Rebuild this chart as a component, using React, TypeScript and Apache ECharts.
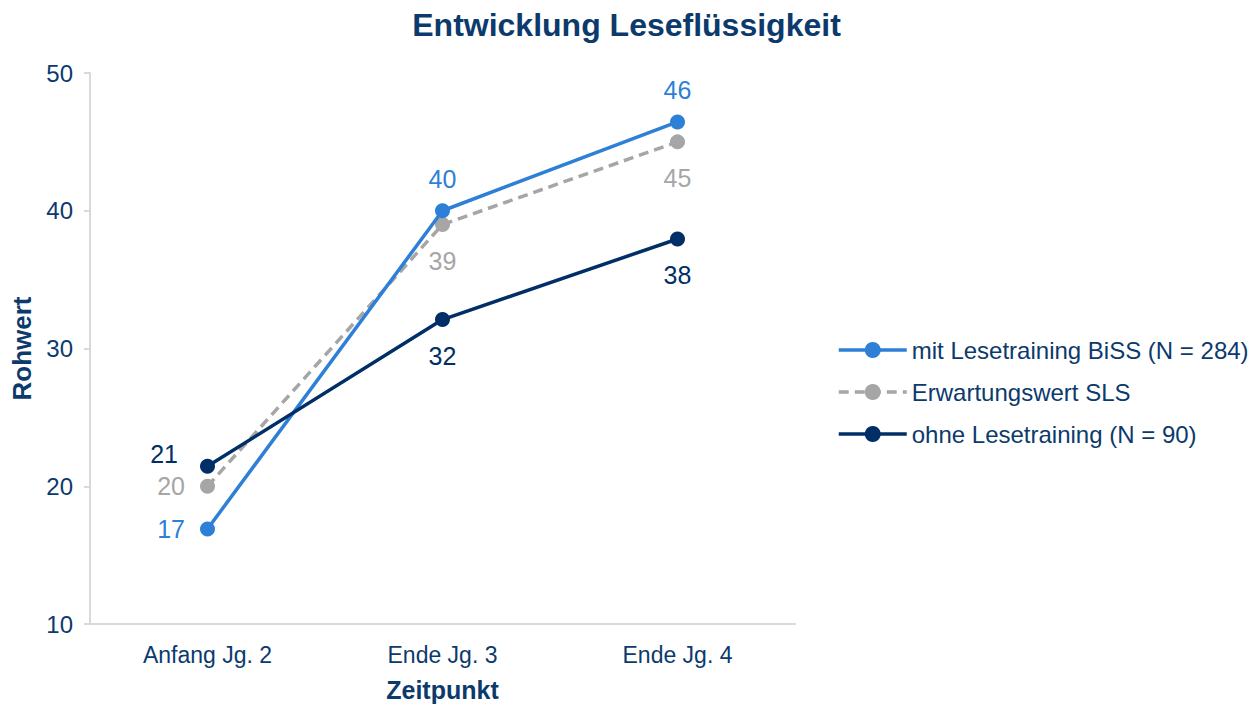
import React, { useEffect, useRef } from "react";
import * as echarts from "echarts";

const categories = ["Anfang Jg. 2", "Ende Jg. 3", "Ende Jg. 4"];
const seriesNames = ["mit Lesetraining BiSS (N = 284)", "Erwartungswert SLS", "ohne Lesetraining (N = 90)"];
const mitBiSS = [16.9, 40.0, 46.45];
const erwartung = [20.0, 39.0, 45.0];
const ohne = [21.45, 32.1, 37.95];
const yTicks = { min: 10, max: 50, interval: 10 };

const NAVY = "#0C3A6C";
const BLUE = "#2E7FD6";
const GRAY = "#A6A6A6";
const DARK = "#002E66";
const FONT = "'Liberation Sans', Arial, sans-serif";
const NARROW = "'Liberation Sans Narrow', 'Liberation Sans', Arial, sans-serif";

const fmt = (p: any) => String(Math.round(p.value));

export default function App() {
  const ref = useRef<HTMLDivElement>(null);
  useEffect(() => {
    document.body.style.margin = "0";
    const chart = echarts.init(ref.current!, null, { renderer: "svg" });
    const labelBase = { show: true, fontSize: 25, fontFamily: FONT, formatter: fmt };
    chart.setOption({
      animation: false,
      backgroundColor: "#ffffff",
      textStyle: { fontFamily: FONT },
      title: {
        text: "Entwicklung Leseflüssigkeit",
        left: "center",
        top: 4,
        textStyle: { color: NAVY, fontSize: 32, fontWeight: "bold", fontFamily: FONT },
      },
      legend: {
        orient: "vertical",
        left: 832,
        top: 333,
        itemGap: 18,
        itemWidth: 68,
        itemHeight: 20,
        textStyle: { color: NAVY, fontSize: 24, fontFamily: FONT },
        lineStyle: { width: 3.5 },
        data: seriesNames,
      },
      grid: { left: 90, right: 458, top: 73, bottom: 80 },
      xAxis: {
        type: "category",
        data: categories,
        boundaryGap: true,
        axisLine: { lineStyle: { color: "#D9D9D9", width: 2 } },
        axisTick: { show: false },
        axisLabel: { color: NAVY, fontSize: 23, fontFamily: NARROW, margin: 19 },
        name: "Zeitpunkt",
        nameLocation: "middle",
        nameGap: 53,
        nameTextStyle: { color: NAVY, fontSize: 25, fontWeight: "bold", fontFamily: NARROW },
      },
      yAxis: {
        type: "value",
        min: yTicks.min,
        max: yTicks.max,
        interval: yTicks.interval,
        axisLine: { show: true, lineStyle: { color: "#D9D9D9", width: 2 } },
        axisTick: { show: true, length: 6, lineStyle: { color: "#D9D9D9", width: 2 } },
        splitLine: { show: false },
        axisLabel: { color: NAVY, fontSize: 24, fontFamily: FONT, margin: 17 },
        name: "Rohwert",
        nameLocation: "middle",
        nameGap: 55,
        nameTextStyle: { color: NAVY, fontSize: 26, fontWeight: "bold", fontFamily: FONT },
      },
      series: [
        {
          name: seriesNames[0],
          type: "line",
          data: mitBiSS.map((v, i) => ({
            value: v,
            label: i === 0 ? { position: "left", distance: 15 } : { position: "top", distance: 12 },
          })),
          color: BLUE,
          lineStyle: { width: 3.5, color: BLUE },
          symbol: "circle",
          symbolSize: 15,
          itemStyle: { color: BLUE },
          label: { ...labelBase, color: BLUE },
          z: 3,
        },
        {
          name: seriesNames[1],
          type: "line",
          data: erwartung.map((v, i) => ({
            value: v,
            label: i === 0 ? { position: "left", distance: 15 } : { position: "bottom", distance: 16 },
          })),
          color: GRAY,
          lineStyle: { width: 3.5, color: GRAY, type: [10, 6] },
          symbol: "circle",
          symbolSize: 15,
          itemStyle: { color: GRAY },
          label: { ...labelBase, color: GRAY },
          z: 2,
        },
        {
          name: seriesNames[2],
          type: "line",
          data: ohne.map((v, i) => ({
            value: v,
            label: i === 0 ? { position: "left", distance: 15, offset: [-7, -12] } : { position: "bottom", distance: 16 },
          })),
          color: DARK,
          lineStyle: { width: 3.5, color: DARK },
          symbol: "circle",
          symbolSize: 15,
          itemStyle: { color: DARK },
          label: { ...labelBase, color: DARK },
          z: 4,
        },
      ],
    });
    return () => chart.dispose();
  }, []);
  return <div ref={ref} style={{ width: 1253, height: 707 }} />;
}
